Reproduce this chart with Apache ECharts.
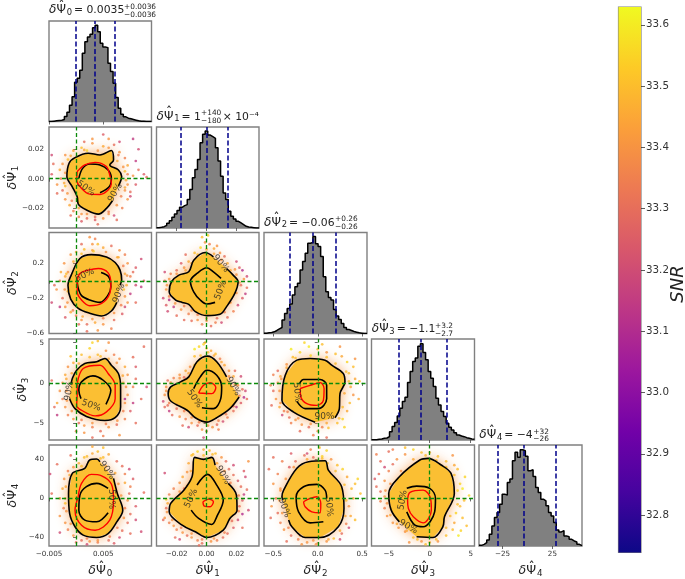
<!DOCTYPE html>
<html><head><meta charset="utf-8">
<script src="https://cdn.jsdelivr.net/npm/echarts@6/dist/echarts.min.js"></script>
<style>html,body{margin:0;background:#fff}#c{width:685px;height:579px}</style></head>
<body><div id="c"></div>
<script>
// ---------- variables: axis ranges, ticks (true units) ----------
const varRanges=[[-0.005,0.0139],[-0.0335,0.0351],[-0.605,0.554],[-7.1,5.46],[-48.7,54.7]];
const xTicks=[[-0.005,0.005],[-0.02,0,0.02],[-0.5,0,0.5],[-5,0,5],[-25,25]];
const yTicks=[[],[-0.02,0,0.02],[-0.6,-0.2,0.2],[-5,0,5],[-40,0,40]];
const tickDecimals=[3,2,1,0,0];
const unitScale=[1e-3,1e-3,1,1,1]; // psi0 and psi1 lists below are in thousandths
const subs=['0','1','2','3','4'];
const quantiles=[[-0.0001,0.0035,0.0071],[-0.0175,0.0001,0.0141],[-0.32,-0.06,0.2],[-3.8,-1.1,2.1],[-30,-4,28]];
// histogram heights (40 bins across the axis range)
const hist0=[0,1,2,3,4,6,15,28,49,74,118,130,154,205,240,254,262,282,289,270,235,224,222,175,150,115,72,40,22,14,10,8,6,4,2,1,1,0,0,0];
const hist1=[1,2,4,8,14,22,32,42,52,62,67,70,85,115,150,175,205,255,280,290,278,273,268,240,200,155,105,85,50,35,27,20,15,10,5,3,2,1,0,0];
const hist2=[1,2,3,5,9,14,18,40,60,75,88,115,140,150,190,215,240,270,272,290,268,260,230,170,125,108,100,72,52,42,30,18,12,9,6,4,2,1,0,0];
const hist3=[1,1,2,3,5,6,10,25,40,52,72,95,115,128,172,205,235,245,280,288,262,240,205,185,160,125,105,85,70,50,38,30,22,15,12,10,7,5,3,2];
const hist4=[2,5,10,18,35,60,85,100,125,155,152,190,200,255,280,265,288,285,268,225,228,208,175,160,140,135,120,100,90,70,48,42,46,30,28,20,15,12,5,1];
const histTop=302;
// ---------- panel (row,col): contours [x,y], points [x,y,SNR], labels [x,y,text,angle] ----------
const c90_10=[[6.7,-15],[5.6,-20.2],[4.1,-24.1],[2.2,-21.8],[0.4,-17.3],[0.2,-12.3],[-0.7,-5.5],[-1.7,1.4],[-1.3,10.5],[-0.2,14.3],[2.2,17.3],[4.4,16.1],[6.5,19.1],[6.9,12.7],[6.2,9.3],[7.8,5.9],[8.4,1.4],[7.8,-5]];
const c50_10=[[0.5,0.2],[1.2,7],[2.5,10],[4.4,9.3],[5.9,5.9],[6.5,0.2],[6.1,-5.5],[4.4,-9.5]];
const red_10=[[0.2,4.8],[1.6,9.3],[3.5,11.1],[5.6,8.2],[6.2,2.5],[6.5,-3.2],[5.9,-7.7],[4.4,-10.7],[2.5,-10.5],[1,-6.6],[0.1,-0.9],[0.2,4.8]];
const lab_10=[[1.8,-6.6,'50%',-35],[7.2,-9.5,'90%',60]];
const dots_10=[[-2.5,10,33.4],[-3,6,33.45],[-2.8,0,33.35],[-3.5,-4,33.4],[-2.5,-8,33.3],[-2,-14,33.4],[-1.2,-18,33.45],[-0.5,-22,33.35],[1,-24,33.4],[2,-27,33.3],[3.5,-28,33.25],[5,-27,33.4],[7,-25,33.2],[8.5,-20,33.35],[9.5,-14,33.4],[10,-9,33.3],[11,-4,33.25],[10.5,2,33.4],[11.5,6,33.3],[9.5,9,33.45],[9,14,33.35],[8,18,33.4],[7,23,33.3],[5,22,33.45],[3,24,33.4],[1,21,33.5],[-0.5,19,33.45],[-2,16,33.4],[-4.5,16,33.2],[-4.2,10,33.3],[11.5,20,33.2],[10.5,27,33.15],[5,30,33.25],[3,27,33.4],[1.5,25,33.3],[8,25,33.2],[12.5,3,33.25],[13,1,33.3],[9.5,-4,33.4],[-1,-25,33.3],[1,-29,33.25],[4,-31,33.3],[6,-24,33.4],[9,-6,33.45],[10,-12,33.2],[-3.5,-10,33.3],[-4.5,3,33.25],[-1.5,13,33.5],[0.5,-26,33.35],[7.5,-28,33.3],[11,12,33.15],[6,27,33.4],[2,19,33.55],[9,5,33.5],[-2,-5,33.5]];
const more_10=[[-2,4,33.4],[-2.2,-3,33.45],[-1.6,-10,33.4],[-0.8,-15,33.35],[0.5,-20,33.45],[2,-24,33.4],[3.5,-26,33.3],[6,-22.5,33.35],[7.5,-18,33.4],[8.3,-12,33.35],[9,-8,33.4],[9.2,-1,33.45],[9.5,3,33.35],[8.7,8,33.4],[7.6,12,33.45],[7.8,16,33.35],[6,21,33.4],[4,19,33.4],[1.5,19.5,33.45],[-1,15.5,33.45]];

const c90_20=[[7.5,-0.248],[6.5,-0.347],[4.7,-0.404],[2.5,-0.373],[0.4,-0.316],[-1,-0.21],[-1.5,-0.05],[-0.9,0.065],[0.7,0.255],[2.8,0.3],[5.6,0.274],[7.2,0.21],[8.1,0.122],[8.4,0.008],[8.1,-0.05]];
const c50_20=[[4.6,0.095],[6,0.046],[6.4,-0.069],[5.9,-0.164],[4.4,-0.248],[2.5,-0.221],[1,-0.171],[0.4,-0.088],[0.2,-0.019]];
const red_20=[[0.2,0.008],[0.7,0.084],[2.2,0.122],[4.1,0.141],[5.9,0.091],[6.4,-0.03],[6.2,-0.145],[4.7,-0.259],[2.5,-0.286],[1,-0.221],[0.2,-0.126],[0.2,0.008]];
const lab_20=[[1.6,0.065,'50%',25],[7.9,-0.145,'90%',70]];
const dots_20=[[-2.2,0.2,33.4],[-2.8,0.1,33.45],[-3,0,33.35],[-3.6,-0.1,33.4],[-2.5,-0.2,33.3],[-2,-0.3,33.4],[-1,-0.36,33.45],[0,-0.4,33.35],[1,-0.45,33.4],[2,-0.5,33.3],[3.5,-0.48,33.45],[5,-0.5,33.4],[7,-0.45,33.3],[8.5,-0.38,33.25],[9.5,-0.25,33.4],[10,-0.15,33.15],[11,-0.05,33.2],[10,0.05,33.35],[11,0.15,33.25],[9.5,0.2,33.4],[9,0.3,33.35],[8,0.35,33.4],[6.5,0.4,33.3],[5,0.38,33.45],[3,0.42,33.4],[1.5,0.36,33.5],[0,0.33,33.45],[-1,0.3,33.4],[-4.5,-0.25,33.2],[-4,-0.05,33.3],[12,0.25,33.2],[2.5,0.5,33.4],[3.5,0.48,33.35],[4,0.42,33.5],[2,-0.58,33.3],[4,-0.57,33.4],[6.5,-0.55,33.35],[12,-0.07,33.15],[12.5,0,33.25],[11,-0.25,33.3],[-2,-0.42,33.25],[0.5,-0.5,33.3],[9,-0.3,33.2],[10.5,0.1,33.3],[-3,-0.3,33.15],[-1.5,-0.12,33.5],[-1.8,0.08,33.5],[1,0.42,33.3],[9,0.08,33.45],[8.8,-0.1,33.5],[7.8,0.27,33.45],[3.2,0.34,33.55]];
const more_20=[[-2,0.05,33.45],[-2.1,-0.1,33.4],[-1.6,-0.25,33.4],[-0.6,-0.34,33.35],[1.2,-0.41,33.45],[3,-0.44,33.4],[5,-0.43,33.35],[7,-0.37,33.4],[8.3,-0.28,33.35],[9,-0.18,33.4],[9.3,-0.05,33.45],[9.4,0.06,33.4],[8.7,0.17,33.35],[7.6,0.27,33.45],[5.5,0.33,33.4],[3,0.35,33.45],[1,0.31,33.5],[-0.5,0.22,33.45],[-1.5,0.1,33.4]];

const c90_21=[[13.4,0.141],[17.8,0.065],[21.1,-0.011],[18.9,-0.145],[13.4,-0.297],[9,-0.385],[0.2,-0.4],[-7.5,-0.354],[-11.9,-0.27],[-16.3,-0.248],[-20.7,-0.221],[-25,-0.126],[-23.5,-0.011],[-18.5,0.065],[-11.9,0.103],[-8.6,0.236],[-0.9,0.324],[4.6,0.274]];
const c50_21=[[9.7,0.027],[4.6,0.103],[0.2,0.149],[-6.4,0.084],[-10.8,-0.004],[-8.6,-0.126],[-4.2,-0.221],[0.2,-0.267],[5.7,-0.248]];
const red_21=[];
const lab_21=[[9.5,0.198,'90%',-50],[9.5,-0.107,'50%',70]];
const dots_21=[[-28,0,33.3],[-27,-0.1,33.4],[-29,-0.2,33.2],[-27,-0.28,33.25],[-22,-0.3,33.15],[-26,-0.35,33.2],[-20,-0.4,33.3],[-17,-0.33,33.4],[-12,-0.38,33.35],[-10,-0.46,33.3],[-6,-0.45,33.4],[-3,-0.5,33.35],[0,-0.46,33.4],[3,-0.52,33.3],[6,-0.48,33.35],[10,-0.48,33.2],[14,-0.42,33.3],[18,-0.35,33.35],[21,-0.28,33.2],[24,-0.2,33.25],[26,-0.15,33.15],[23,-0.05,33.3],[25,0.02,33.4],[27,0.05,33.2],[24,0.12,33.1],[22,0.15,33.25],[19,0.13,33.4],[20,0.22,33.2],[14,0.2,33.45],[12,0.28,33.3],[9,0.32,33.4],[5,0.37,33.45],[2,0.42,33.35],[-1,0.44,33.4],[-4,0.38,33.55],[-8,0.32,33.5],[-12,0.22,33.45],[-15,0.15,33.4],[-20,0.12,33.3],[-24,0.08,33.35],[-17,0.2,33.25],[-3,0.5,33.5],[1,0.52,33.55],[-14,0.3,33.3],[15,-0.25,33.45],[18,-0.15,33.5],[-28,0.1,33.2],[-15,-0.45,33.3],[-25,-0.22,33.1],[7,0.4,33.4],[27,-0.08,33.3]];
const more_21=[[-26.5,-0.05,33.4],[-25,-0.18,33.35],[-21,-0.26,33.4],[-15,-0.29,33.35],[-10,-0.34,33.4],[-6,-0.39,33.35],[0,-0.43,33.4],[7,-0.43,33.3],[12,-0.36,33.35],[16,-0.25,33.4],[20,-0.14,33.4],[22,-0.02,33.4],[20,0.07,33.4],[16,0.12,33.45],[10,0.24,33.4],[5,0.31,33.45],[0,0.36,33.45],[-6,0.3,33.5],[-10,0.2,33.45],[-14,0.12,33.45],[-20,0.08,33.4],[-25,0.02,33.4]];

const c90_30=[[-1.2,-1.96],[-0.2,-3.2],[1.9,-4.17],[5.3,-4.67],[7.2,-4.33],[8.2,-3],[8.2,-0.5],[7.8,1.17],[6.5,2.2],[5.3,3.04],[3.8,2.63],[1.6,2.42],[0.1,1.58],[-0.7,0.54],[-0.9,-0.08]];
const c50_30=[[0.9,-1.96],[0.5,-0.92],[1,0.13],[3.1,0.88],[5,0.33],[6.4,-0.92],[6.1,-1.75],[5.5,-2.67]];
const red_30=[[0.2,-0.08],[1.3,1.8],[4.4,2.2],[5.9,1.17],[7.2,-0.3],[7.2,-1.96],[5.6,-3.6],[3.5,-4.1],[1,-3.4],[0.1,-2.8],[0.2,-1.33],[0.2,-0.08]];
const lab_30=[[-1.3,-1,'90%',80],[2.8,-2.8,'50%',-20]];
const dots_30=[[-2,1,33.45],[-2.5,0,33.4],[-3,-1,33.4],[-2.5,-2,33.35],[-3.5,-2.5,33.45],[-4,-3,33.3],[-2,-3,33.4],[-1.5,-4,33.35],[-0.5,-4.5,33.4],[0.5,-5,33.3],[1.5,-5.3,33.4],[3,-5.5,33.35],[4.5,-6,33.3],[6,-5.5,33.4],[7.5,-5.2,33.3],[9,-4.5,33.35],[10,-3.5,33.25],[10.5,-2.5,33.15],[12,-2,33.3],[9.5,-1.5,33.4],[10.5,-0.5,33.35],[11,0.5,33.3],[9.5,1,33.4],[9,2,33.45],[11,2,33.25],[8,3,33.4],[7,3.5,33.35],[5.5,4,33.4],[4,3.5,33.5],[2.5,4.3,33.55],[1,3.5,33.5],[-0.5,2.5,33.45],[-1.5,2,33.4],[3,5,33.55],[4,5.2,33.5],[12.5,4.5,33.3],[3,-6.8,33.3],[5,-6.6,33.35],[-3.5,-4,33.15],[-4.5,0.3,33.3],[13,-0.5,33.2],[8,-6.5,33.4],[0,-6,33.35],[11,-5,33.3],[10.5,3.2,33.3],[9,-2,33.1],[1.5,-6.2,33.4],[6,5,33.4],[-1,3.3,33.5],[8.7,0,33.45]];
const more_30=[[-1.8,0.5,33.45],[-1.8,-1,33.4],[-1.7,-2.2,33.4],[-0.8,-3.5,33.4],[1,-4.6,33.35],[3,-5,33.4],[5.5,-5.1,33.35],[7.6,-4.7,33.4],[8.7,-3.5,33.35],[9,-2.5,33.4],[9.2,-0.5,33.4],[8.6,0.9,33.45],[7.5,2.5,33.4],[6,3,33.45],[4.5,3.3,33.5],[2.5,3.2,33.5],[0.5,2.4,33.45],[-0.8,1.2,33.45]];

const c90_31=[[21.8,-1.75],[15.6,-3.2],[6.8,-4.33],[0.2,-4.88],[-7.5,-4.33],[-13,-3.4],[-24,-2.25],[-25.7,-1.33],[-24,-0.5],[-17.4,0.13],[-11.9,0.75],[-6.4,2.63],[0.7,3.33],[6.8,2.63],[13.4,0.75]];
const c50_31=[[-8.6,-0.7],[-4.2,0.75],[0.2,1.58],[6.8,0.96],[10.1,-0.5],[9.5,-1.96],[4.6,-3.2],[-3.1,-3.08]];
const red_31=[[-5.3,-1.25],[-2,-0.3],[2.4,0.04],[6.2,-0.58],[3.5,-1.33],[-5.3,-1.25]];
const lab_31=[[17.8,-0.42,'90%',-60],[-8.1,-1.96,'50%',-55]];
const dots_31=[[-27,-0.5,33.4],[-28,-1.5,33.4],[-29,-2.3,33.2],[-26,-2.8,33.3],[-25,-3.5,33.15],[-20,-3.2,33.3],[-23,-4,33.3],[-18,-4.2,33.4],[-14,-4.5,33.35],[-10,-5,33.4],[-12,-5.5,33.2],[-6,-5.3,33.3],[-3,-5.8,33.4],[0,-6,33.35],[-2,-6.8,33.2],[4,-5.5,33.4],[7,-5.2,33.3],[11,-4.8,33.2],[14,-4.3,33.35],[18,-3.5,33.3],[20,-3,33.15],[23,-2.5,33.25],[25,-1.8,33.1],[24,-0.8,33.3],[21,-0.3,33.4],[18,0.8,33.45],[23,0.8,33.2],[15,1.5,33.4],[12,2.2,33.45],[9,3,33.35],[6,3.6,33.5],[3,4,33.45],[0,4.3,33.5],[-2,4.8,33.55],[-5,4.5,33.55],[-8,3.3,33.5],[-11,2,33.4],[-14,1.5,33.45],[-18,1,33.4],[-22,0.6,33.35],[-26,0.3,33.3],[-15,0.7,33.3],[-8,4.2,33.6],[-1,5,33.5],[26,-1,33.2],[27,-2,33.3],[-28,-3,33.3],[-16,-5.3,33.3],[8,-5.8,33.35],[19,1.5,33.3]];
const more_31=[[-27,-1,33.4],[-25,-2.5,33.35],[-20,-2.7,33.4],[-15,-3.5,33.35],[-10,-4.3,33.4],[-5,-4.9,33.35],[1,-5.3,33.4],[8,-4.7,33.35],[13,-3.9,33.35],[18,-2.9,33.3],[22,-1.6,33.35],[19,-0.2,33.4],[15,0.8,33.4],[10,2.6,33.45],[5,3.4,33.45],[1,3.8,33.5],[-4,3.4,33.5],[-8,2.2,33.5],[-12,1.2,33.45],[-18,0.6,33.4],[-24,0.05,33.4]];

const c90_32=[[0.194,-4.33],[0.243,-3.2],[0.25,-1.33],[0.306,0.13],[0.287,1.17],[0.157,2.2],[0.082,2.83],[-0.086,3.04],[-0.235,2.83],[-0.366,0.96],[-0.403,-2.17],[-0.272,-3.63],[-0.03,-4.88]];
const c50_32=[[-0.205,-0.08],[-0.16,0.42],[0.026,0.42],[0.1,-0.3],[0.1,-1.96],[0.007,-3.2],[-0.142,-3.2],[-0.235,-2.3]];
const red_32=[[-0.198,-0.7],[-0.086,-0.3],[0.026,0.04],[0.071,-0.7],[0.063,-2.17],[-0.011,-2.8],[-0.123,-2.58],[-0.19,-1.75],[-0.198,-0.7]];
const lab_32=[[0.075,-4.25,'90%',0],[-0.235,-1.2,'50%',-85]];
const dots_32=[[-0.45,0,33.4],[-0.5,-1,33.3],[-0.47,-2,33.4],[-0.52,-2.8,33.3],[-0.43,-3,33.45],[-0.38,-3.5,33.35],[-0.32,-4.3,33.3],[-0.3,-5,33.35],[-0.25,-4.6,33.4],[-0.18,-5.2,33.4],[-0.1,-5.5,33.3],[-0.05,-6.5,33.35],[0,-6,33.4],[0.05,-5.5,33.35],[0.12,-5.6,33.5],[0.22,-5,33.5],[0.28,-4.5,33.55],[0.33,-3.5,33.45],[0.36,-2.5,33.5],[0.4,-1.5,33.4],[0.37,-0.5,33.45],[0.42,0.5,33.45],[0.35,1.2,33.5],[0.4,2,33.5],[0.33,2.6,33.55],[0.27,3.3,33.45],[0.2,3.6,33.5],[0.1,3.8,33.4],[0,4.2,33.5],[-0.1,4.5,33.6],[-0.2,3.8,33.55],[-0.15,5,33.55],[-0.28,3.2,33.5],[-0.35,2.3,33.4],[-0.45,1.5,33.3],[-0.5,1,33.35],[-0.42,0.8,33.45],[-0.3,4.2,33.6],[0.05,4.8,33.5],[0.25,4.5,33.4],[-0.53,-0.3,33.35],[0.47,0.2,33.5],[0.1,-6.8,33.3],[0.3,-5.5,33.55],[-0.4,-4,33.2],[0.42,3,33.4],[0.46,-2,33.45],[-0.2,-6,33.3]];
const more_32=[[-0.43,-1,33.4],[-0.42,-2.5,33.4],[-0.34,-3.6,33.35],[-0.22,-4.4,33.4],[-0.08,-5.1,33.4],[0.1,-5,33.45],[0.24,-4.4,33.5],[0.28,-3,33.5],[0.3,-1.3,33.45],[0.35,0.2,33.5],[0.32,1.4,33.5],[0.2,2.4,33.5],[0.1,3.2,33.5],[-0.08,3.4,33.55],[-0.25,3.1,33.5],[-0.35,1.9,33.45],[-0.41,0.5,33.4]];

const c90_40=[[6.9,20.5],[7.6,5.1],[8.6,-12],[7.5,-24],[5.9,-36],[3.8,-40],[1.3,-37.6],[-0.2,-29],[-1.2,-15.4],[-1.4,5.1],[-0.7,25.6],[1.6,30.8],[2.5,39.3],[3.8,40.3],[4.4,37.6]];
const c50_40=[[5.9,-14.7],[3.8,-23.9],[1.6,-22.2],[0.5,-12],[0.7,3.4],[1.9,12],[3.8,15.4],[5.9,10.3]];
const red_40=[[0.4,1.7],[1,15.4],[2.8,24.6],[4.7,23.2],[6.5,14.7],[6.9,-1.7],[6.2,-22.2],[3.5,-32.5],[1,-27.4],[-0.2,-12],[0.4,1.7]];
const lab_40=[[5.7,29,'90%',-55],[6.5,-0.7,'50%',-90]];
const dots_40=[[-2.2,20,33.4],[-2.5,10,33.45],[-3,0,33.4],[-2.3,-10,33.35],[-3,-18,33.4],[-2,-25,33.4],[-1.5,-32,33.35],[-0.5,-38,33.4],[1,-43,33.3],[2.5,-44,33.4],[4,-45,33.35],[6,-43,33.3],[8,-40,33.2],[8.5,-33,33.3],[9.5,-25,33.3],[10,-16,33.3],[11,-8,33.25],[9.5,-2,33.4],[9.8,5,33.3],[10,12,33.35],[10.5,20,33.25],[9,25,33.35],[8.5,33,33.3],[7.5,38,33.3],[6,45,33.45],[5,42,33.5],[4,48,33.5],[3,46,33.45],[1.5,42,33.5],[0.5,36,33.45],[-0.5,32,33.4],[-1.5,28,33.35],[-4.8,25,33.2],[-3.5,35,33.3],[3,53,33.45],[5,52,33.5],[-3,-35,33.2],[-1,44,33.3],[11,-22,33.2],[12,-34,33.2],[10,-36,33.3],[12.5,6,33.3],[-4.5,5,33.3],[0,-45,33.3],[7,-46,33.25],[9.8,30,33.2],[2,-47,33.2],[9,16,33.45],[-2,-5,33.5]];
const more_40=[[-1.9,12,33.45],[-2,0,33.45],[-1.8,-13,33.4],[-1,-26,33.4],[0.2,-34,33.4],[2,-41,33.35],[4,-43,33.4],[6.2,-39,33.35],[7.6,-30,33.35],[8.8,-20,33.4],[9,-10,33.35],[8.3,3,33.4],[7.8,15,33.4],[7.2,26,33.45],[5.5,33,33.45],[4.5,41,33.5],[2,43,33.5],[1,33,33.5],[-1.2,24,33.45]];

const c90_41=[[14.5,15.4],[20,3.4],[20.4,-12],[15.6,-20.5],[11.2,-32.5],[0.2,-40],[-7.5,-34.2],[-16.3,-27.4],[-25,-13.7],[-24,-5.1],[-15.2,8.5],[-9.7,22.2],[-7.9,42],[-2,40],[3.5,42],[5.7,34.2]];
const c50_41=[[-6.4,13.7],[0.7,24.6],[6.8,13.7],[11.2,-1.7],[6.8,-18.8],[3.5,-26.7],[-5.3,-20.5],[-10.3,-12]];
const red_41=[[-2.4,-3.4],[1.3,-0.7],[4.6,-3.4],[2.4,-8.5],[-1.5,-7.9],[-2.4,-3.4]];
const lab_41=[[10.8,24,'90%',-60],[-10.3,0,'50%',65]];
const dots_41=[[-28,-20,33.4],[-27,-10,33.3],[-29,-22,33.3],[-25,-25,33.35],[-22,-28,33.4],[-20,-32,33.35],[-16,-35,33.4],[-13,-38,33.3],[-10,-40,33.4],[-6,-43,33.35],[-3,-46,33.3],[3,-44,33.4],[7,-43,33.35],[11,-40,33.3],[14,-36,33.3],[18,-30,33.25],[21,-22,33.2],[24,-16,33.1],[22,-8,33.3],[24,-2,33.25],[25,4,33.15],[27,9,33.3],[23,12,33.3],[21,18,33.25],[26,22,33.2],[18,24,33.3],[15,30,33.3],[18,34,33.2],[13,38,33.3],[10,42,33.4],[28,38,33.4],[6,46,33.5],[2,49,33.5],[-2,50,33.45],[-6,48,33.55],[-10,44,33.5],[-12,36,33.45],[-13,27,33.4],[-16,22,33.45],[-18,16,33.4],[-22,10,33.35],[-25,4,33.35],[-27,-1,33.55],[-15,10,33.3],[-28,26,33.2],[-18,-42,33.2],[-21,-40,33.3],[-5,-48,33.3],[24,-30,33.3],[28,-12,33.2],[25,28,33.25],[-8,38,33.55]];
const more_41=[[-26.5,-14,33.4],[-23,-22,33.4],[-17,-30,33.35],[-10,-36,33.4],[-3,-42,33.35],[5,-41,33.4],[12,-35,33.35],[17,-23,33.3],[21.5,-13,33.35],[21.5,3,33.35],[16,16,33.35],[12,28,33.4],[7,36,33.45],[4,45,33.5],[-2,44,33.5],[-9,45,33.5],[-10.5,28,33.45],[-13,13,33.45],[-18,7,33.4],[-26,-5,33.45]];

const c90_42=[[-0.328,-22],[-0.291,-29],[-0.142,-40],[0.026,-40],[0.231,-29],[0.295,-10.3],[0.269,12],[0.119,29],[0.082,38.6],[-0.104,37.6],[-0.235,30.8],[-0.384,8.5],[-0.403,1.7],[-0.392,-1.7]];
const c50_42=[[0.063,-23.9],[-0.086,-25],[-0.216,-13.7],[-0.243,1.7],[-0.16,12],[-0.011,14.4],[0.082,8.5],[0.1,0]];
const red_42=[[-0.16,-3.4],[-0.086,0],[-0.011,1.7],[0.034,-5.1],[0.026,-14.7],[-0.067,-13.7],[-0.142,-8.5],[-0.16,-3.4]];
const lab_42=[[-0.377,-9.6,'90%',-70],[0.127,-8.5,'50%',-85]];
const dots_42=[[-0.45,25,33.35],[-0.5,15,33.4],[-0.42,8,33.4],[-0.47,0,33.35],[-0.52,-8,33.4],[-0.45,-15,33.3],[-0.42,-25,33.35],[-0.38,-32,33.4],[-0.3,-38,33.3],[-0.22,-42,33.35],[-0.12,-45,33.4],[0,-46,33.35],[0.1,-44,33.4],[0.18,-41,33.5],[0.27,-36,33.3],[0.32,-26,33.35],[0.37,-18,33.45],[0.35,-8,33.4],[0.4,0,33.45],[0.38,10,33.5],[0.42,15,33.5],[0.33,22,33.45],[0.28,30,33.55],[0.22,34,33.5],[0.15,40,33.4],[0.05,43,33.55],[-0.05,42,33.3],[-0.15,44,33.3],[-0.25,38,33.3],[-0.32,32,33.25],[-0.4,38,33.35],[-0.5,42,33.3],[-0.55,30,33.3],[-0.08,50,33.35],[0.02,52,33.5],[-0.3,46,33.25],[0.1,49,33.55],[0.45,20,33.55],[0.48,5,33.5],[-0.02,-47,33.4],[0.35,-30,33.2],[-0.53,-20,33.3],[0.25,-42,33.2],[-0.35,-44,33.3],[-0.18,-47,33.4],[0.42,-22,33.5],[-0.12,46,33.2]];
const more_42=[[-0.42,10,33.4],[-0.43,-2,33.4],[-0.4,-15,33.4],[-0.33,-30,33.35],[-0.2,-38,33.4],[-0.05,-43,33.4],[0.12,-42,33.45],[0.25,-33,33.45],[0.31,-18,33.45],[0.32,-2,33.5],[0.3,14,33.5],[0.2,28,33.5],[0.11,36,33.5],[0.05,41,33.5],[-0.12,40,33.45],[-0.27,32,33.4],[-0.36,20,33.4]];

const c90_43=[[-1.6,-39.3],[0.4,-40],[1.6,-29],[1.8,-18.8],[3,5.1],[2.6,25.6],[1.4,34.2],[-0.2,41],[-1.2,39.3],[-3.7,22.2],[-5,5.1],[-4.7,-12],[-3.7,-24]];
const c50_43=[[-2.8,10.3],[-1.6,12.6],[0,10.3],[0.7,0],[0.6,-13.7],[-0.8,-29],[-1.8,-27.4],[-2.8,-13.7]];
const red_43=[[-2.7,-1.7],[-2.4,6.2],[-0.8,8.5],[0.1,0],[0.2,-12],[-0.8,-25],[-2,-18.8],[-2.6,-10.3],[-2.7,-1.7]];
const lab_43=[[-2.6,-29,'90%',-30],[-3.3,-1.7,'50%',80]];
const dots_43=[[-6.5,45,33.35],[-6,38,33.3],[-5.5,32,33.2],[-5,28,33.35],[-6.2,25,33.3],[-5.5,18,33.4],[-6.5,12,33.3],[-6,7,33.3],[-5.5,2,33.4],[-6,-3,33.35],[-5.5,-10,33.35],[-5.2,-18,33.4],[-4.5,-25,33.4],[-3.8,-30,33.4],[-3,-34,33.4],[-2,-40,33.5],[-1,-44,33.4],[0,-45,33.45],[1,-44,33.4],[2,-38,33.5],[2.8,-32,33.5],[3,-25,33.45],[4,-20,33.5],[3.2,-15,33.55],[3.7,-8,33.5],[4.2,-2,33.5],[4.8,3,33.55],[4,10,33.6],[3.7,15,33.55],[4.3,22,33.55],[3.4,30,33.5],[3,34,33.45],[2,38,33.5],[1,43,33.5],[0,47,33.45],[-1,47,33.5],[-2,50,33.55],[-3,45,33.4],[-4,40,33.4],[-5,48,33.3],[-4.5,50,33.35],[-3,52,33.5],[3.5,-38,33.6],[3.8,-33,33.55],[4.5,-28,33.5],[-0.5,-47,33.5],[-6.7,20,33.25],[2.8,44,33.4],[-4.5,35,33.3],[-2.5,-45,33.4]];
const more_43=[[-5.4,8,33.4],[-5.2,-5,33.4],[-4.8,-17,33.45],[-4,-26,33.45],[-2.8,-33,33.45],[-1.5,-42,33.5],[0.8,-42,33.5],[2,-30,33.5],[2.5,-18,33.5],[3.4,-6,33.5],[3.4,8,33.55],[3,24,33.5],[2,32,33.5],[0.8,39,33.5],[-0.5,44,33.5],[-2,40,33.45],[-3.5,28,33.4],[-4.8,15,33.4]];

const hists=[hist0,hist1,hist2,hist3,hist4];
const panels=[[1,0,c90_10,c50_10,red_10,dots_10.concat(more_10),lab_10],[2,0,c90_20,c50_20,red_20,dots_20.concat(more_20),lab_20],[2,1,c90_21,c50_21,red_21,dots_21.concat(more_21),lab_21],
[3,0,c90_30,c50_30,red_30,dots_30.concat(more_30),lab_30],[3,1,c90_31,c50_31,red_31,dots_31.concat(more_31),lab_31],[3,2,c90_32,c50_32,red_32,dots_32.concat(more_32),lab_32],
[4,0,c90_40,c50_40,red_40,dots_40.concat(more_40),lab_40],[4,1,c90_41,c50_41,red_41,dots_41.concat(more_41),lab_41],[4,2,c90_42,c50_42,red_42,dots_42.concat(more_42),lab_42],[4,3,c90_43,c50_43,red_43,dots_43.concat(more_43),lab_43]];
// colour bar
const snrRange=[32.739,33.629];
const snrTicks=[32.8,32.9,33.0,33.1,33.2,33.3,33.4,33.5,33.6];
const plasma=['#0d0887','#46039f','#7201a8','#9c179e','#bd3786','#d8576b','#ed7953','#fb9f3a','#fdca26','#f0f921'];
// titles: main text, upper script, lower script
const titleMain=['0.0035','1','−0.06','−1.1','−4'];
const titleSup=['+0.0036','+140','+0.26','+3.2','+32'];
const titleSub=['−0.0036','−180','−0.26','−2.7','−26'];

// ---------- layout ----------
const colX=[[49,102.5],[156.5,102.5],[264,103],[371.5,103],[479,103]];
const rowY=[[21,100.5],[127,101],[232.5,101],[339,101],[445,101]];
const titlePos=[[49,10,124,7,15],[156.5,116.7,201,113,121],[264,222.7,335,219.3,226.7],[371.7,329.3,435,326,334],[479.3,435,533.3,431.7,439.3]];
const rowCentre=[0,177.5,283,389.5,495.5];
const yNameX=[0,13,13,23,13];
const F='"DejaVu Sans"', INK='#222';
const GREY='#808080';
const fmt=d=>v=>Number(v).toFixed(d).replace('-','−');
// delta, Psi, hat and subscript as real text pieces
function symbol(i,x,y,s,rot){
  const t=(text,dx,dy,size,extra)=>({type:'text',x:dx,y:dy,style:Object.assign({text,fontFamily:F,fontSize:size,fill:INK,verticalAlign:'middle',align:'left'},extra||{})});
  return {type:'group',x,y,rotation:rot||0,silent:true,children:[
    t('δ',0,0,s,{fontStyle:'italic'}),
    t('Ψ',0.62*s,0,s),
    t('\u02C6',1.04*s,-0.3*s,s,{align:'center'}),
    t(subs[i],1.47*s,0.2*s,0.7*s)
  ]};
}
const grid=[],xAxis=[],yAxis=[],series=[],graphic=[],scatterIdx=[];
function addGrid(r,c,isHist){
  const g=grid.length;
  grid.push({show:true,left:colX[c][0],top:rowY[r][0],width:colX[c][1],height:rowY[r][1],borderColor:GREY,borderWidth:1.4,backgroundColor:'#fff'});
  const tickStyle={show:true,length:3,inside:false,lineStyle:{color:'#444',width:0.8}};
  const xLabel=r===4;
  xAxis.push({type:'value',gridIndex:g,min:varRanges[c][0],max:varRanges[c][1],splitLine:{show:false},axisLine:{show:false},
    axisTick:{...tickStyle,customValues:xTicks[c]},
    axisLabel:{show:xLabel,customValues:xTicks[c],formatter:fmt(tickDecimals[c]),fontFamily:F,fontSize:7.2,color:'#333',margin:5,showMinLabel:true,showMaxLabel:true}});
  if(isHist){
    yAxis.push({type:'value',gridIndex:g,min:0,max:histTop,show:false});
  }else{
    const yLabel=c===0;
    yAxis.push({type:'value',gridIndex:g,min:varRanges[r][0],max:varRanges[r][1],splitLine:{show:false},axisLine:{show:false},
      axisTick:{...tickStyle,customValues:yTicks[r]},
      axisLabel:{show:yLabel,customValues:yTicks[r],formatter:fmt(tickDecimals[r]),fontFamily:F,fontSize:7.2,color:'#333',margin:5,showMinLabel:true,showMaxLabel:true}});
    if(yLabel) graphic.push(symbol(r,yNameX[r],rowCentre[r]+12,12.5,Math.PI/2));
  }
  if(xLabel) graphic.push(symbol(c,colX[c][0]+colX[c][1]/2-12,571,12.5,0));
  return g;
}
// diagonal histograms
hists.forEach((h,i)=>{
  const g=addGrid(i,i,true);
  const [lo,hi]=varRanges[i], w=(hi-lo)/h.length;
  const pts=h.map((v,k)=>[lo+w*(k+0.5),v]);
  pts.unshift([lo,h[0]]); pts.push([hi,h[h.length-1]]);
  series.push({type:'line',xAxisIndex:g,yAxisIndex:g,data:pts,step:'middle',symbol:'none',z:3,
    lineStyle:{color:'#000',width:1.5},areaStyle:{color:'#808080',opacity:1},
    markLine:{silent:true,symbol:'none',animation:false,precision:6,label:{show:false},lineStyle:{color:'#00008b',type:[5,2.5],width:1.5},data:quantiles[i].map(q=>({xAxis:q}))}});
  const t=titlePos[i], txt=(text,x,y,size)=>({type:'text',x,y,silent:true,style:{text,fontFamily:F,fontSize:size,fill:INK,verticalAlign:'middle',align:'left'}});
  graphic.push(symbol(i,t[0],t[1],12,0));
  graphic.push(txt('=',t[0]+25,t[1],10.8));
  graphic.push(txt(titleMain[i],t[0]+37.5,t[1],10.8));
  graphic.push(txt(titleSup[i],t[2],t[3],7.4));
  graphic.push(txt(titleSub[i],t[2],t[4],7.4));
});
graphic.push({type:'text',x:222.7,y:116.7,silent:true,style:{text:'× 10⁻⁴',fontFamily:F,fontSize:10.8,fill:INK,verticalAlign:'middle'}});
graphic.push({type:'text',x:678,y:284,rotation:Math.PI/2,silent:true,style:{text:'SNR',fontFamily:F,fontStyle:'italic',fontSize:18,fill:INK,align:'center',verticalAlign:'middle'}});
// lower-triangle panels
panels.forEach(([r,c,c90,c50,red,dots,labs])=>{
  const g=addGrid(r,c,false), sx=unitScale[c], sy=unitScale[r];
  const tr=a=>a.map(p=>[p[0]*sx,p[1]*sy]);
  const poly=tr(c90);
  series.push({type:'custom',xAxisIndex:g,yAxisIndex:g,data:poly,z:2,encode:{x:0,y:1},silent:true,
    renderItem:(params,api)=>{
      if(params.dataIndex!==0) return null;
      return {type:'polygon',shape:{points:poly.map(p=>api.coord(p))},style:{fill:'#fbbf33',shadowBlur:14,shadowColor:'rgba(249,155,70,0.9)'}};
    }});
  scatterIdx.push(series.length);
  series.push({type:'scatter',xAxisIndex:g,yAxisIndex:g,data:dots.map(p=>[p[0]*sx,p[1]*sy,p[2]]),symbol:'circle',symbolSize:2.7,z:3,encode:{x:0,y:1}});
  const lineOf=(arr,color,w)=>({type:'line',xAxisIndex:g,yAxisIndex:g,data:tr(arr),smooth:0.35,symbol:'none',z:4,lineStyle:{color:color,width:w}});
  series.push(lineOf(c90,'#000',1.6));
  series.push(lineOf(c50,'#000',1.6));
  if(red.length) series.push(lineOf(red,'#f00',1.4));
  series.push({type:'scatter',xAxisIndex:g,yAxisIndex:g,symbolSize:1,z:7,itemStyle:{color:'rgba(0,0,0,0)'},
    data:labs.map(l=>({value:[l[0]*sx,l[1]*sy],label:{show:true,position:'inside',formatter:l[2],rotate:l[3],fontFamily:F,fontSize:9,color:'#222'}}))});
  series.push({type:'line',xAxisIndex:g,yAxisIndex:g,data:[],z:6,
    markLine:{silent:true,symbol:'none',animation:false,precision:6,label:{show:false},lineStyle:{color:'#0a8a0a',type:[4,2.5],width:1.3},data:[{xAxis:0},{yAxis:0}]}});
});
// colour bar
const cb=grid.length;
grid.push({show:true,left:618.5,top:7,width:22.5,height:545.5,borderColor:GREY,borderWidth:1.2});
xAxis.push({type:'category',gridIndex:cb,data:['SNR'],show:false});
yAxis.push({type:'value',gridIndex:cb,position:'right',min:snrRange[0],max:snrRange[1],splitLine:{show:false},axisLine:{show:false},
  axisTick:{show:true,length:4,customValues:snrTicks,lineStyle:{color:'#333',width:0.8}},
  axisLabel:{customValues:snrTicks,formatter:fmt(1),fontFamily:F,fontSize:10.3,color:'#333',margin:5,showMinLabel:true,showMaxLabel:true}});
series.push({type:'bar',xAxisIndex:cb,yAxisIndex:cb,data:[snrRange[1]],barWidth:'100%',z:2,
  itemStyle:{color:{type:'linear',x:0,y:1,x2:0,y2:0,colorStops:plasma.map((c,i)=>({offset:i/(plasma.length-1),color:c}))}}});

const chart=echarts.init(document.getElementById('c'),null,{renderer:'canvas'});
chart.setOption({animation:false,backgroundColor:'#fff',textStyle:{fontFamily:F},grid,xAxis,yAxis,series,graphic,
  visualMap:{show:false,seriesIndex:scatterIdx,dimension:2,min:snrRange[0],max:snrRange[1],inRange:{color:plasma}}});
</script></body></html>
